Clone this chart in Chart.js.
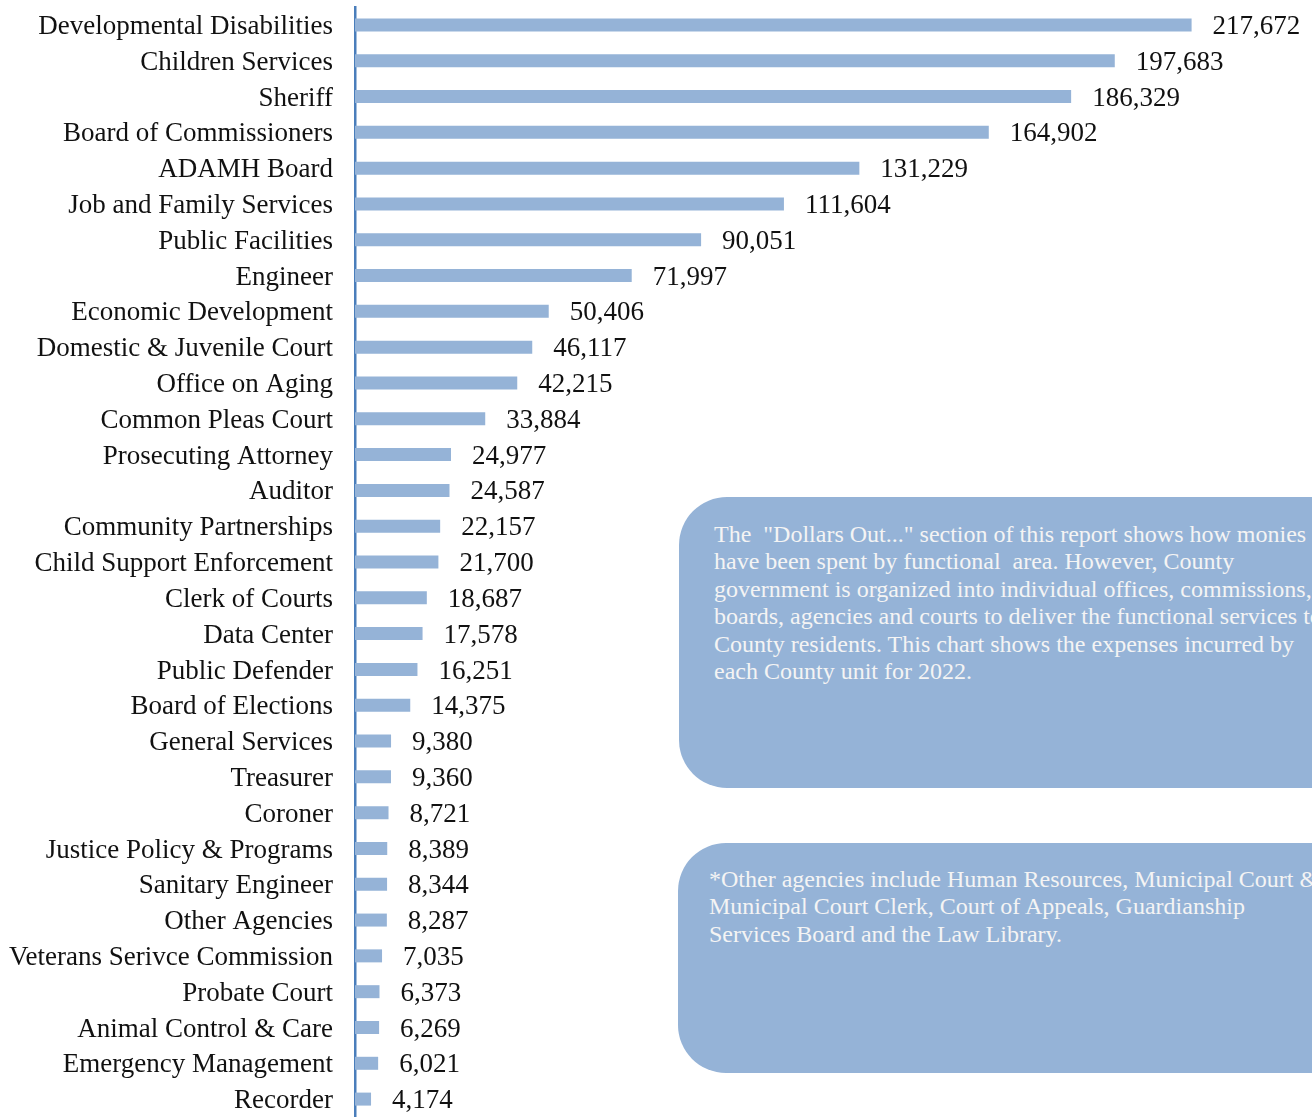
<!DOCTYPE html>
<html>
<head>
<meta charset="utf-8">
<script src="https://cdn.jsdelivr.net/npm/chart.js@4"></script>
<style>
  html, body { margin:0; padding:0; background:#fff; width:1312px; height:1117px; overflow:hidden; }
  #wrap { position:relative; width:1312px; height:1117px; }
  canvas { position:absolute; left:0; top:0; }
  .box { position:absolute; background:#95b3d7; border-radius:48px 0 0 48px; color:#f4f4f4;
         font-family:'Liberation Serif','Times New Roman',serif; font-size:24px; line-height:27.4px;
         white-space:nowrap; overflow:hidden; box-sizing:border-box; }
  #box1 { left:679px; top:497px; width:700px; height:291px; padding:24px 0 0 35px; }
  #box2 { left:678px; top:843px; width:700px; height:230px; padding:23px 0 0 31px; }
</style>
</head>
<body>
<div id="wrap">
  <canvas id="c" width="1312" height="1117"></canvas>
  <div class="box" id="box1">The &nbsp;"Dollars Out..." section of this report shows how monies<br>have been spent by functional &nbsp;area. However, County<br>government is organized into individual offices, commissions,<br>boards, agencies and courts to deliver the functional services to<br>County residents. This chart shows the expenses incurred by<br>each County unit for 2022.</div>
  <div class="box" id="box2">*Other agencies include Human Resources, Municipal Court &amp;<br>Municipal Court Clerk, Court of Appeals, Guardianship<br>Services Board and the Law Library.</div>
</div>
<script>
const categories = [
  "Developmental Disabilities","Children Services","Sheriff","Board of Commissioners","ADAMH Board",
  "Job and Family Services","Public Facilities","Engineer","Economic Development","Domestic & Juvenile Court",
  "Office on Aging","Common Pleas Court","Prosecuting Attorney","Auditor","Community Partnerships",
  "Child Support Enforcement","Clerk of Courts","Data Center","Public Defender","Board of Elections",
  "General Services","Treasurer","Coroner","Justice Policy & Programs","Sanitary Engineer",
  "Other Agencies","Veterans Serivce Commission","Probate Court","Animal Control & Care","Emergency Management",
  "Recorder"
];
const expenses = [
  217672,197683,186329,164902,131229,
  111604,90051,71997,50406,46117,
  42215,33884,24977,24587,22157,
  21700,18687,17578,16251,14375,
  9380,9360,8721,8389,8344,
  8287,7035,6373,6269,6021,
  4174
];

const FONT = "'Liberation Serif','Times New Roman',serif";

const valueLabels = {
  id: 'valueLabels',
  afterDatasetsDraw(chart) {
    const ctx = chart.ctx;
    const meta = chart.getDatasetMeta(0);
    ctx.save();
    ctx.font = "27px " + FONT;
    ctx.fillStyle = "#111";
    ctx.textAlign = "left";
    ctx.textBaseline = "middle";
    meta.data.forEach((bar, i) => {
      const txt = expenses[i].toLocaleString('en-US');
      ctx.fillText(txt, bar.x + 21, bar.y + 2);
    });
    ctx.restore();
  }
};

new Chart(document.getElementById('c'), {
  type: 'bar',
  data: {
    labels: categories,
    datasets: [{
      data: expenses,
      backgroundColor: '#95b3d7',
      borderWidth: 0,
      categoryPercentage: 1,
      barPercentage: 0.363
    }]
  },
  options: {
    indexAxis: 'y',
    responsive: false,
    animation: false,
    layout: { padding: { top: 7, right: 0, bottom: 0, left: 0 } },
    plugins: { legend: { display: false }, tooltip: { enabled: false } },
    scales: {
      x: { display: false, min: 0, max: 249000 },
      y: {
        grid: { display: false, drawTicks: false },
        border: { display: true, color: '#4a7ebb', width: 2.5 },
        ticks: { color: '#111', font: { family: FONT, size: 27 }, padding: 22, autoSkip: false, labelOffset: 2 },
        afterFit(scale) { scale.width = 355; scale.paddingTop = 0; scale.paddingBottom = 0; }
      }
    }
  },
  plugins: [valueLabels]
});
</script>
</body>
</html>
